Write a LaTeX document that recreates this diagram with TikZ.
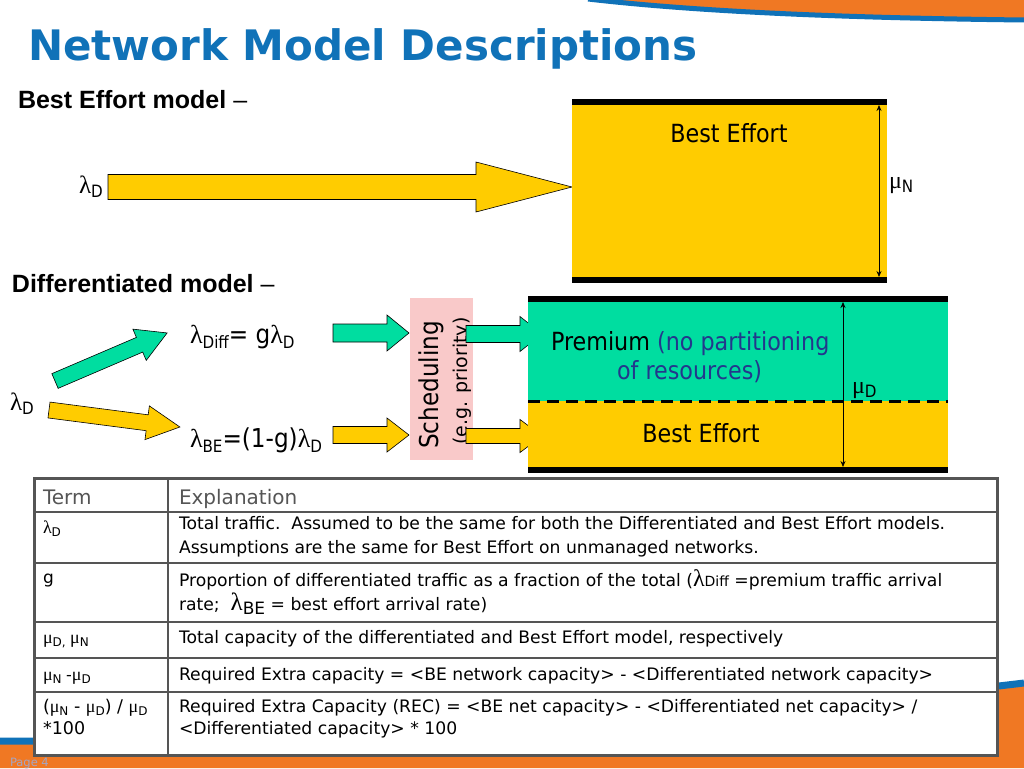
\documentclass[tikz,border=0pt]{standalone}
\usepackage{fontspec}
\setmainfont{Liberation Sans}
\newfontfamily\dv{DejaVu Sans}
\newfontfamily\sy{Liberation Serif}
\usetikzlibrary{arrows.meta}
\definecolor{tblue}{RGB}{16,114,184}
\definecolor{bandorange}{RGB}{240,120,35}
\definecolor{pyellow}{RGB}{255,204,0}
\definecolor{pgreen}{RGB}{0,221,160}
\definecolor{ppink}{RGB}{249,201,201}
\definecolor{dblue}{RGB}{35,55,140}
\definecolor{tgray}{RGB}{85,85,85}
\definecolor{pagecol}{RGB}{165,165,195}
\newcommand\fs[1]{\fontsize{#1pt}{#1pt}\selectfont}
\newcommand\tah[2]{\scalebox{0.89}[1]{\dv\fs{#1}#2}}
% straight block arrow: fill, x0, y, x1, xbase, shaft half width, head half width
\newcommand\harrow[7]{\filldraw[blockarrow,fill=#1] (#2,#3-#6) -- (#5,#3-#6) -- (#5,#3-#7) -- (#4,#3) -- (#5,#3+#7) -- (#5,#3+#6) -- (#2,#3+#6) -- cycle;}
\begin{document}
\begin{tikzpicture}[x=1pt,y=-1pt,
  txt/.style={inner sep=0pt,outer sep=0pt,anchor=base west},
  blockarrow/.style={draw=black,line width=0.6pt},
  bar/.style={fill=black},
  dim/.style={{Stealth[length=6pt,width=5pt]}-{Stealth[length=6pt,width=5pt]},line width=0.8pt},
  grid/.style={draw=tgray,line width=1.5pt},
  cell/.style={txt,text=black,font=\dv\fs{17.2}},
  term/.style={txt,text=black,font=\dv\fs{17}}]
\useasboundingbox (0,0) rectangle (1024,768);
\fill[white] (0,0) rectangle (1024,768);
% decorations
\fill[bandorange] (588,-1) .. controls (700,12) and (850,18) .. (1024,20) -- (1024,0) -- (588,0) -- cycle;
\draw[tblue,line width=5pt] (588,-1) .. controls (700,12) and (850,18) .. (1024,20);
\fill[bandorange] (0,741) .. controls (350,742) and (750,716) .. (1024,683) -- (1024,768) -- (0,768) -- cycle;
\draw[tblue,line width=7pt] (0,741) .. controls (350,742) and (750,716) .. (1024,683);
% title
\node[txt,text=tblue] (title) at (28,60) {\dv\bfseries\fs{42}Network Model Descriptions};
\node[txt] (bem) at (18,108) {\fs{25}\textbf{Best Effort model} –};
\node[txt] (dm) at (12,292) {\fs{25}\textbf{Differentiated model} –};
% best effort model
\node[txt] (lamD1) at (79,193) {\sy\fs{25}λ\raisebox{-4pt}{\tah{17}{D}}};
\harrow{pyellow}{108}{187}{572}{476}{12.5}{25}
\fill[pyellow] (572,103) rectangle (887,280);
\fill[bar] (572,99) rectangle (887,105);
\fill[bar] (572,277) rectangle (887,283);
\coordinate (nTop) at (879,105);
\coordinate (nBot) at (879,277);
\draw[dim] (nTop) -- (nBot);
\node[txt] (muN) at (889,188) {\sy\fs{24}μ\raisebox{-4pt}{\tah{17}{N}}};
\node[inner sep=0pt] (be1) at (729,133) {\tah{25}{Best Effort}};
% differentiated model
\node[txt] (lamD2) at (10,410) {\sy\fs{25}λ\raisebox{-4pt}{\tah{17}{D}}};
\begin{scope}[shift={(55,381)},rotate=23.2]
\harrow{pgreen}{0}{0}{122}{92}{8}{17}
\end{scope}
\begin{scope}[shift={(49,410)},rotate=-7.4]
\harrow{pyellow}{0}{0}{132}{99}{8}{17}
\end{scope}
\node[txt] (ldiff) at (190,343) {\sy\fs{26}λ\raisebox{-5pt}{\tah{17}{Diff}}\tah{26}{= g}\sy\fs{26}λ\raisebox{-5pt}{\tah{17}{D}}};
\node[txt] (lbe) at (190,447) {\sy\fs{26}λ\raisebox{-5pt}{\tah{17}{BE}}\tah{26}{=(1-g)}\sy\fs{26}λ\raisebox{-5pt}{\tah{17}{D}}};
\harrow{pgreen}{333}{333}{409}{387}{9}{18}
\harrow{pyellow}{333}{435}{409}{387}{8.5}{17}
% scheduling
\fill[ppink] (410,298) rectangle (473,460);
\node[inner sep=0pt,rotate=90] (sched) at (431,385) {\tah{26}{Scheduling}};
\node[inner sep=0pt,rotate=90] (prio) at (462,381) {\dv\fs{19}(e.g. priority)};
\harrow{pgreen}{466}{334}{542}{520}{8.5}{17.5}
\harrow{pyellow}{466}{436}{542}{520}{7.5}{16.5}
% differentiated pipe
\fill[pgreen] (528,302) rectangle (948,401);
\fill[pyellow] (528,401) rectangle (948,467);
\draw[line width=3pt,dash pattern=on 12pt off 7pt] (528,401) -- (948,401);
\fill[bar] (528,296) rectangle (948,302);
\fill[bar] (528,467) rectangle (948,473);
\coordinate (dTop) at (843,302);
\coordinate (dBot) at (843,467);
\draw[dim] (dTop) -- (dBot);
\node[txt] (muD) at (852,393) {\sy\fs{24}μ\raisebox{-4pt}{\tah{17}{D}}};
\node[txt] (prem1) at (551,350) {\tah{25}{Premium \textcolor{dblue}{(no partitioning}}};
\node[txt] (prem2) at (617,379) {\tah{25}{\textcolor{dblue}{of resources)}}};
\node[inner sep=0pt] (be2) at (701,433) {\tah{25}{Best Effort}};
% table
\fill[white] (34,478) rectangle (997,755);
\draw[grid] (168,478) -- (168,755);
\foreach \yy in {512,563,622,658,692} \draw[grid] (34,\yy) -- (997,\yy);
\draw[draw=tgray,line width=3pt] (34,478) rectangle (997,755);
\node[txt,text=tgray,font=\dv\fs{20}] (hTerm) at (43,504) {Term};
\node[txt,text=tgray,font=\dv\fs{20}] (hExpl) at (179,504) {Explanation};
\node[term] (t1) at (43,533) {\sy\fs{18}λ\raisebox{-3pt}{\dv\fs{12}D}};
\node[cell] (e1a) at (179,529) {Total traffic.\ \ Assumed to be the same for both the Differentiated and Best Effort models.};
\node[cell] (e1b) at (179,553) {Assumptions are the same for Best Effort on unmanaged networks.};
\node[term] (t2) at (43,583) {g};
\node[cell] (e2a) at (179,586) {Proportion of differentiated traffic as a fraction of the total ({\sy\fs{24}λ}{\fs{14}Diff} =premium traffic arrival};
\node[cell] (e2b) at (179,610) {rate;\ \ {\sy\fs{25}λ}\raisebox{-4pt}{\fs{17}BE} = best effort arrival rate)};
\node[term] (t3) at (43,643) {\sy\fs{18}μ\raisebox{-3pt}{\dv\fs{12}D,} μ\raisebox{-3pt}{\dv\fs{12}N}};
\node[cell] (e3) at (179,643) {Total capacity of the differentiated and Best Effort model, respectively};
\node[term] (t4) at (43,680) {\sy\fs{18}μ\raisebox{-3pt}{\dv\fs{12}N} \dv\fs{16}-\sy\fs{18}μ\raisebox{-3pt}{\dv\fs{12}D}};
\node[cell] (e4) at (179,680) {Required Extra capacity = <BE network capacity> - <Differentiated network capacity>};
\node[term] (t5a) at (43,712) {\fs{17.5}(\sy\fs{18}μ\raisebox{-3pt}{\dv\fs{12}N}\dv\fs{17.5} - \sy\fs{18}μ\raisebox{-3pt}{\dv\fs{12}D}\dv\fs{17.5}) / \sy\fs{18}μ\raisebox{-3pt}{\dv\fs{12}D}};
\node[term] (t5b) at (43,734) {\fs{17.5}*100};
\node[cell] (e5a) at (179,712) {Required Extra Capacity (REC) = <BE net capacity> - <Differentiated net capacity> /};
\node[cell] (e5b) at (179,734) {<Differentiated capacity> * 100};
\node[txt,text=pagecol] (page) at (10,766) {\dv\fs{11.5}Page 4};
\end{tikzpicture}
\end{document}
